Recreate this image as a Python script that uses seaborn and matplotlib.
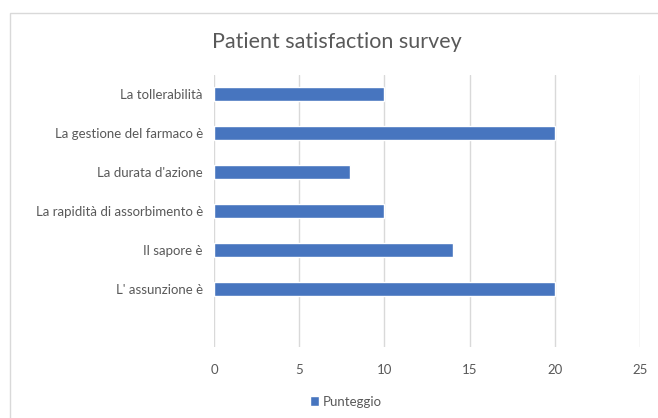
import numpy as np
import pandas as pd
import matplotlib
matplotlib.use("Agg")
import matplotlib.pyplot as plt
from matplotlib.patches import Rectangle
import seaborn as sns

# Data (top to bottom; last slot is empty in the original)
categories = ["La tollerabilità", "La gestione del farmaco è", "La durata d'azione",
              "La rapidità di assorbimento è", "Il sapore è", "L' assunzione è", " "]
scores = [10, 20, 8, 10, 14, 20, np.nan]
series_name = "Punteggio"

df = pd.DataFrame({"Categoria": categories, "Valore": scores, "Serie": series_name})

sns.set_style("white")
plt.rcParams["font.family"] = ["Lato", "DejaVu Sans"]
text_col = "#595959"
bar_col = "#4775BF"

fig = plt.figure(figsize=(6.58, 4.18), dpi=100)
ax = fig.add_axes([214 / 658, 1 - 347 / 418, 426 / 658, 272 / 418])

sns.barplot(data=df, y="Categoria", x="Valore", hue="Serie", orient="h",
            palette=[bar_col], saturation=1, width=0.36, ax=ax, legend=True)

ax.set_xlim(0, 25)
ax.set_xticks([0, 5, 10, 15, 20, 25])
ax.xaxis.grid(True, color="#d9d9d9", linewidth=1)
ax.set_axisbelow(True)
for s in ax.spines.values():
    s.set_visible(False)
ax.set_xlabel("")
ax.set_ylabel("")
ax.tick_params(axis="both", length=0, colors=text_col, labelsize=9.5)
ax.tick_params(axis="x", pad=12)
ax.tick_params(axis="y", pad=8)

ax.legend(loc="upper center", bbox_to_anchor=(0.31, -0.135), frameon=False,
          handlelength=0.7, handleheight=0.7, handletextpad=0.3, fontsize=9.5,
          labelcolor=text_col)

fig.text(337 / 658, 1 - 42 / 418, "Patient satisfaction survey", ha="center",
         va="center", fontsize=15.5, color=text_col)

# chart frame (runs off the right and bottom edges, as in the screenshot)
fig.patches.append(Rectangle((10 / 658, -0.05), 1.0, 1 - 13 / 418 + 0.05,
                             transform=fig.transFigure, fill=False,
                             edgecolor="#d9d9d9", linewidth=1))

fig.savefig("out.png", dpi=100, facecolor="white")
